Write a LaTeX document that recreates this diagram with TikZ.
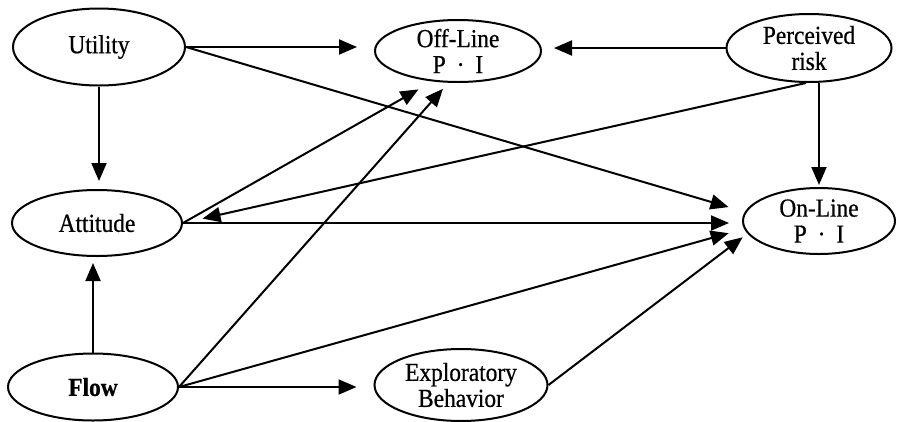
\documentclass[tikz,border=0pt]{standalone}
\usepackage{fontspec}
\setmainfont{Liberation Serif}[FakeStretch=0.9,FakeBold=0.6]
\usetikzlibrary{shapes.geometric,arrows.meta,calc}
\newcommand{\pidot}{P\hspace{0.42em}·\hspace{0.42em}I}
\begin{document}
\begin{tikzpicture}[x=1pt,y=-1pt,
  latent/.style={ellipse,draw,line width=2pt,inner sep=-7pt,align=center,
    font=\fontsize{26}{26}\selectfont},
  link/.style={line width=2pt,-{Triangle[length=18pt,width=15pt]}}]
\fill[white] (0,0) rectangle (897,421);
\useasboundingbox (0,0) rectangle (897,421);

% constructs
\node[latent,minimum width=172pt,minimum height=77pt] (util) at (99,47) {Utility};
\node[latent,minimum width=170pt,minimum height=66pt] (att)  at (97,223) {Attitude};
\node[latent,minimum width=170pt,minimum height=67pt,font=\fontsize{26}{26}\selectfont\bfseries] (flow) at (93,387) {Flow};
\node[latent,minimum width=166pt,minimum height=62pt] (off)  at (458,51) {Off-Line\\\pidot};
\node[latent,minimum width=173pt,minimum height=72pt] (exp)  at (461,385) {Exploratory\\Behavior};
\node[latent,minimum width=165pt,minimum height=68pt] (per)  at (809,48) {Perceived\\risk};
\node[latent,minimum width=152pt,minimum height=66pt] (onl)  at (819,221) {On-Line\\\pidot};

% paths
\draw[link,shorten >=17pt] (util.east) -- (util.east -| off.west);
\draw[link,shorten >=12pt] (per.west) -- (per.west -| off.east);
\draw[link,shorten >=17pt] (util.east) -- (onl.173);
\draw[link,shorten >=8pt]  (util.south) -- (util.south |- att.north);
\draw[link,shorten >=6pt]  (flow.north) -- (flow.north |- att.south);
\draw[link,shorten >=2pt]  (per.south -| onl.north) -- (onl.north);
\draw[link,shorten >=20pt] (per.265) -- (att.east);
\draw[link,shorten >=16pt] (att.east) -- (off.230);
\draw[link,shorten >=13pt] (att.east) -- (att.east -| onl.west);
\draw[link,shorten >=8pt]  (flow.east) -- (off.253);
\draw[link,shorten >=16pt] (flow.east) -- (onl.186);
\draw[link,shorten >=17pt] (flow.east) -- (flow.east -| exp.west);
\draw[link,shorten >=6pt]  (exp.east) -- (onl.190);
\end{tikzpicture}
\end{document}
